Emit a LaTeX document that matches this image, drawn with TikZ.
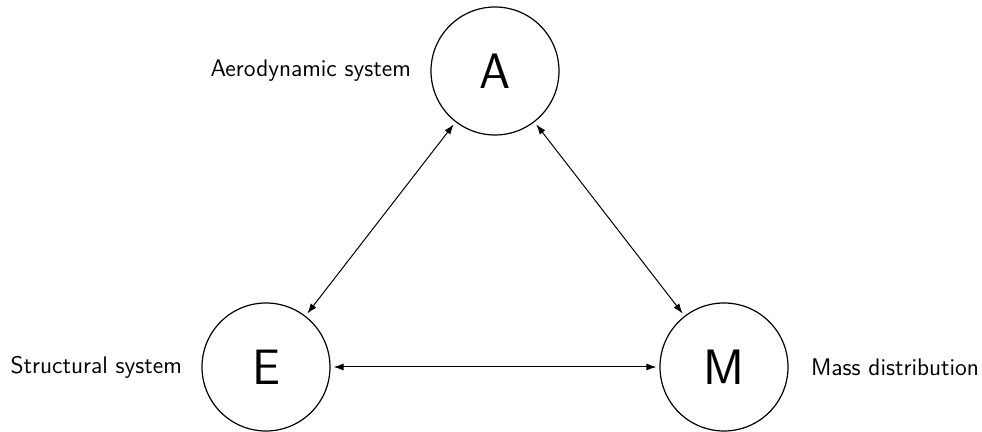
\documentclass[tikz,border=0pt]{standalone}
\usetikzlibrary{arrows.meta,positioning}
\begin{document}
\begin{tikzpicture}[x=0.5pt,y=-0.5pt,
  sys/.style={draw, circle, minimum size=64pt, inner sep=0pt, line width=0.6pt, font=\sffamily\Huge},
  lab/.style={inner sep=0pt, font=\sffamily\fontsize{12}{14}\selectfont},
  link/.style={{Latex[length=5pt,width=3.5pt]}-{Latex[length=5pt,width=3.5pt]}, line width=0.5pt, shorten <=1.5pt, shorten >=1.5pt}]
\useasboundingbox (0,0) rectangle (982,432);
\node[sys] (A) at (495,71) {A};
\node[sys] (E) at (266,367) {E};
\node[sys] (M) at (724,367) {M};
\node[lab, left=9.5pt of A] (la) {Aerodynamic system};
\node[lab, left=9.5pt of E] (le) {Structural system};
\node[lab, right=11pt of M] (lm) {Mass distribution};
\draw[link] (A) -- (E);
\draw[link] (A) -- (M);
\draw[link] (E) -- (M);
\end{tikzpicture}
\end{document}
